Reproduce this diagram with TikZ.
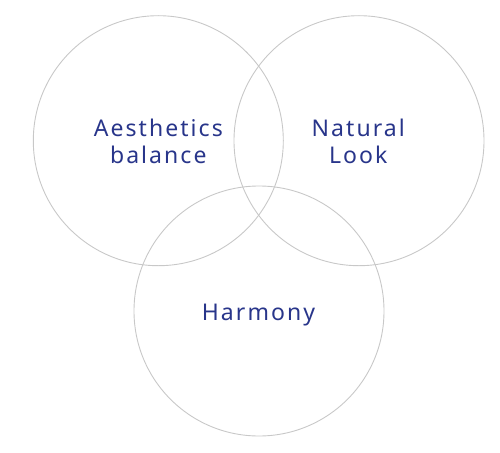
\documentclass[tikz,border=0pt]{standalone}
\usepackage{fontspec}
\setmainfont{Noto Sans}[LetterSpace=9]
\definecolor{navy}{HTML}{28358A}
\definecolor{ring}{HTML}{C8C8C8}
\begin{document}
\begin{tikzpicture}[x=1pt,y=-1pt,
  ring/.style={draw=ring,line width=0.9pt},
  lbl/.style={text=navy,font=\fontsize{23}{27.3}\selectfont,align=center,inner sep=0pt}]
\useasboundingbox (0,0) rectangle (500,452);
\draw[ring] (158.3,140.7) circle[radius=125];
\draw[ring] (359,140.7) circle[radius=125];
\draw[ring] (259,311) circle[radius=125];
\node[lbl,anchor=base] (a) at (158.3,163.3) {Aesthetics\\balance};
\node[lbl,anchor=base] (n) at (358.3,163.3) {Natural\\Look};
\node[lbl,anchor=base] (h) at (258.5,320.7) {Harmony};
\end{tikzpicture}
\end{document}
